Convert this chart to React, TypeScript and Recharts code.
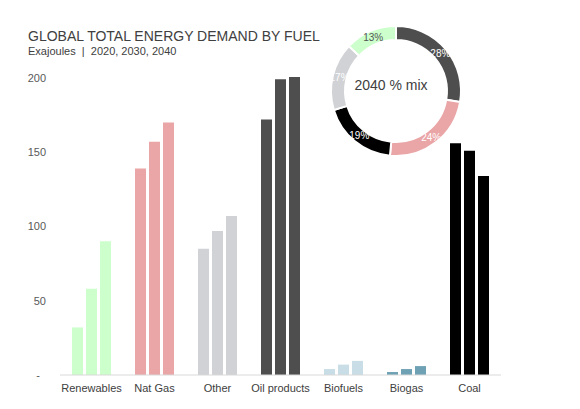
import React from "react";
import { BarChart, Bar, XAxis, YAxis, Cell, PieChart, Pie } from "recharts";

const FUELS = ["Renewables", "Nat Gas", "Other", "Oil products", "Biofuels", "Biogas", "Coal"];
const DEMAND_2020 = [32, 139, 85, 172, 4, 2, 156];
const DEMAND_2030 = [58, 157, 97, 199, 7, 4, 151];
const DEMAND_2040 = [90, 170, 107, 200.5, 9.5, 6, 134];
const Y_TICKS = [0, 50, 100, 150, 200];

const MIX_LABELS = ["Oil products", "Nat Gas", "Coal", "Other", "Renewables"];
const MIX_2040 = [28, 24, 19, 17, 13];

const FUEL_COLORS = ["#ccffcc", "#eaa5a6", "#d0d2d5", "#4e4e4e", "#c8dde5", "#6fa1b5", "#000000"];
const MIX_COLORS = ["#4e4e4e", "#eaa5a6", "#000000", "#d0d2d5", "#ccffcc"];

const FONT = "'Liberation Sans', Arial, sans-serif";
const RAD = Math.PI / 180;

const data = FUELS.map((name, i) => ({
  name,
  y2020: DEMAND_2020[i],
  y2030: DEMAND_2030[i],
  y2040: DEMAND_2040[i],
}));

const mix = MIX_LABELS.map((name, i) => ({ name, value: MIX_2040[i] }));

function YTick(props: any) {
  const { y, payload } = props;
  if (payload.value === 0) {
    return (
      <text x={38} y={y} dy="0.355em" textAnchor="middle" fontSize={11} fill="#595959" fontFamily={FONT}>
        -
      </text>
    );
  }
  return (
    <text x={46} y={y} dy="0.355em" textAnchor="end" fontSize={11} fill="#595959" fontFamily={FONT}>
      {payload.value}
    </text>
  );
}

function MixLabel(props: any) {
  const { cx, cy, midAngle, innerRadius, outerRadius, value, index } = props;
  const r = (innerRadius + outerRadius) / 2;
  const x = cx + r * Math.cos(-midAngle * RAD);
  const y = cy + r * Math.sin(-midAngle * RAD);
  return (
    <text
      x={x}
      y={y}
      dy="0.355em"
      textAnchor="middle"
      fontSize={10}
      fill={index === 4 ? "#555555" : "#ffffff"}
      fontFamily={FONT}
    >
      {value}%
    </text>
  );
}

export default function App() {
  const series = ["y2020", "y2030", "y2040"];
  return (
    <div style={{ position: "absolute", left: 0, top: 0, width: 580, height: 409, background: "#fff" }}>
      <BarChart
        width={580}
        height={409}
        data={data}
        margin={{ top: 63, right: 79, bottom: 4, left: 0 }}
        barSize={11}
        barGap={3}
      >
        <XAxis
          dataKey="name"
          height={30}
          interval={0}
          axisLine={{ stroke: "#d9d9d9" }}
          tickLine={false}
          tickSize={0}
          tickMargin={9}
          tick={{ fontSize: 11, fill: "#404040", fontFamily: FONT }}
        />
        <YAxis
          width={60}
          domain={[0, 210]}
          ticks={Y_TICKS}
          axisLine={false}
          tickLine={false}
          tick={<YTick />}
        />
        {series.map((key) => (
          <Bar key={key} dataKey={key} isAnimationActive={false}>
            {data.map((d, i) => (
              <Cell key={`${key}-${d.name}`} fill={FUEL_COLORS[i]} />
            ))}
          </Bar>
        ))}
      </BarChart>

      <div style={{ position: "absolute", left: 311, top: 6, width: 160, height: 160 }}>
        <PieChart width={160} height={160}>
          <Pie
            data={mix}
            dataKey="value"
            cx={80}
            cy={80}
            innerRadius={51}
            outerRadius={65}
            startAngle={90}
            endAngle={-270}
            stroke="#ffffff"
            strokeWidth={2}
            labelLine={false}
            label={MixLabel}
            isAnimationActive={false}
          >
            {mix.map((m, i) => (
              <Cell key={`mix-${m.name}`} fill={MIX_COLORS[i]} />
            ))}
          </Pie>
        </PieChart>
      </div>

      <svg
        width={580}
        height={409}
        style={{ position: "absolute", left: 0, top: 0, pointerEvents: "none" }}
      >
        <text x={28} y={40.5} fontSize={14} fill="#404040" fontFamily={FONT}>
          GLOBAL TOTAL ENERGY DEMAND BY FUEL
        </text>
        <text x={28} y={54.5} fontSize={11} fill="#404040" fontFamily={FONT} xmlSpace="preserve">
          Exajoules  |  2020, 2030, 2040
        </text>
        <text x={391} y={90} fontSize={14} fill="#404040" fontFamily={FONT} textAnchor="middle">
          2040 % mix
        </text>
      </svg>
    </div>
  );
}
